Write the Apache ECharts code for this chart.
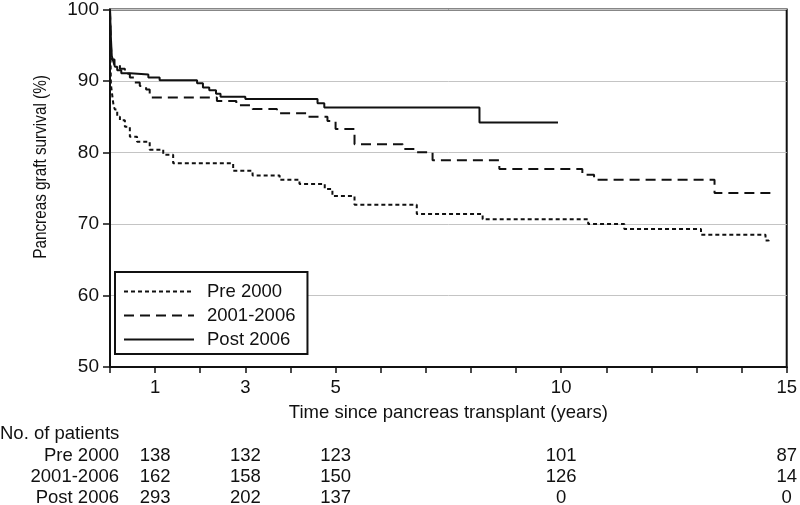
<!DOCTYPE html>
<html><head><meta charset="utf-8">
<script src="https://cdn.jsdelivr.net/npm/echarts@6/dist/echarts.min.js"></script>
<style>html,body{margin:0;padding:0;background:#fff}#c{width:800px;height:505px}</style>
</head><body><div id="c"></div>
<script>
// ---- data ----
const seriesNames = ['Pre 2000', '2001-2006', 'Post 2006'];

const pre2000Times  = [0, 0.01, 0.02, 0.05, 0.08, 0.11, 0.16, 0.22, 0.33, 0.44, 0.6, 0.88, 1.18, 1.4, 2.73, 3.16, 3.76, 4.2, 4.76, 4.93, 5.42, 6.8, 8.26, 10.6, 11.4, 13.1, 14.53, 14.6];
const pre2000Values = [100, 94, 89.5, 88.0, 86.5, 86.0, 85.0, 84.5, 83.6, 82.2, 81.5, 80.4, 79.7, 78.5, 77.45, 76.8, 76.2, 75.6, 74.9, 73.9, 72.7, 71.4, 70.65, 70.0, 69.3, 68.5, 67.7, 67.6];

const mid2001Times  = [0, 0.02, 0.04, 0.1, 0.22, 0.33, 0.44, 0.55, 0.66, 0.8, 0.88, 2.37, 2.8, 3.16, 3.7, 4.36, 4.82, 5.0, 5.42, 6.49, 6.75, 7.15, 8.63, 10.47, 10.73, 13.4, 14.75];
const mid2001Values = [100, 95, 93.0, 92.2, 91.7, 91.0, 90.5, 89.8, 89.3, 88.8, 87.7, 87.2, 86.6, 86.1, 85.5, 85.0, 84.4, 83.3, 81.15, 80.5, 80.05, 78.9, 77.7, 76.9, 76.2, 74.35, 74.35];

const post2006Times  = [0, 0.02, 0.04, 0.07, 0.11, 0.16, 0.25, 0.45, 0.85, 1.1, 1.93, 2.06, 2.2, 2.35, 2.45, 3.0, 4.6, 4.75, 8.19, 9.93];
const post2006Values = [100, 96, 93.5, 92.8, 92.0, 91.5, 91.1, 90.9, 90.5, 90.1, 89.7, 89.1, 88.7, 88.2, 87.8, 87.5, 86.9, 86.3, 84.2, 84.2];

const xTickLabels = [1, 3, 5, 10, 15];
const yTickValues = [50, 60, 70, 80, 90, 100];

const atRiskTitle = 'No. of patients';
const atRiskTimes = [1, 3, 5, 10, 15];
const atRiskPre2000  = [138, 132, 123, 101, 87];
const atRisk2001     = [162, 158, 150, 126, 14];
const atRiskPost2006 = [293, 202, 137, 0, 0];

// ---- chart ----
const FONT = "'Liberation Sans', Arial, sans-serif";
const INK = '#111';
const FS = 18.5;
const chart = echarts.init(document.getElementById('c'), null, {renderer: 'canvas'});

function pairs(ts, vs) { return ts.map((t, i) => [t, vs[i]]); }

const lineStyles = [
  {color: INK, width: 2, type: [4, 3]},
  {color: INK, width: 2, type: [10, 6]},
  {color: INK, width: 2, type: 'solid'}
];
const dataSets = [
  pairs(pre2000Times, pre2000Values),
  pairs(mid2001Times, mid2001Values),
  pairs(post2006Times, post2006Values)
];

chart.setOption({
  animation: false,
  backgroundColor: '#fff',
  textStyle: {fontFamily: FONT, color: INK},
  grid: {left: 110, right: 11, top: 7, bottom: 138, show: true, borderColor: INK, borderWidth: 2, backgroundColor: 'transparent'},
  xAxis: {
    type: 'value', min: 0, max: 15, interval: 1,
    name: 'Time since pancreas transplant (years)',
    nameLocation: 'middle', nameGap: 36,
    nameTextStyle: {fontFamily: FONT, fontSize: FS, color: INK},
    axisLine: {show: true, lineStyle: {color: INK, width: 2}},
    axisTick: {show: true, inside: false, length: 6, lineStyle: {color: INK, width: 1.5}},
    axisLabel: {
      fontFamily: FONT, fontSize: FS, color: INK, margin: 11,
      formatter: v => xTickLabels.indexOf(v) >= 0 ? String(v) : ''
    },
    splitLine: {show: false}
  },
  yAxis: {
    type: 'value', min: 50, max: 100, interval: 10,
    axisLine: {show: true, lineStyle: {color: INK, width: 2}},
    axisTick: {show: true, inside: false, length: 7, lineStyle: {color: INK, width: 1.5}},
    axisLabel: {fontFamily: FONT, fontSize: 19, color: INK, margin: 11,
      formatter: v => yTickValues.indexOf(v) >= 0 ? String(v) : ''},
    splitLine: {show: true, lineStyle: {color: '#c4c4c4', width: 1}}
  },
  legend: {
    orient: 'vertical', left: 115, top: 272,
    data: seriesNames,
    itemWidth: 70, itemHeight: 20, itemGap: 5,
    padding: [10, 12, 5, 8],
    borderColor: INK, borderWidth: 2, backgroundColor: '#fff',
    itemStyle: {opacity: 0},
    textStyle: {fontFamily: FONT, fontSize: FS, color: INK, padding: [0, 0, 0, 8]},
    selectedMode: false
  },
  series: seriesNames.map((n, i) => ({
    name: n, type: 'line', step: 'end', symbol: 'none', showSymbol: false,
    data: dataSets[i], lineStyle: lineStyles[i], itemStyle: {color: INK},
    z: 3 - i
  }))
});

// y-axis title and number-at-risk table
const texts = [];
texts.push({type: 'text', x: 41, y: 167, rotation: Math.PI / 2, scaleX: 0.85, scaleY: 1,
  style: {text: 'Pancreas graft survival (%)', fontFamily: FONT, fontSize: 18, fill: INK, align: 'center', verticalAlign: 'middle'}});
texts.push({type: 'text', x: 0, y: 434,
  style: {text: atRiskTitle, fontFamily: FONT, fontSize: FS, fill: INK, align: 'left', verticalAlign: 'middle'}});
const rows = [atRiskPre2000, atRisk2001, atRiskPost2006];
const rowY = [455.5, 477, 498];
rows.forEach((row, r) => {
  texts.push({type: 'text', x: 119, y: rowY[r],
    style: {text: seriesNames[r], fontFamily: FONT, fontSize: FS, fill: INK, align: 'right', verticalAlign: 'middle'}});
  row.forEach((n, j) => {
    const px = chart.convertToPixel({xAxisIndex: 0}, atRiskTimes[j]);
    texts.push({type: 'text', x: px, y: rowY[r],
      style: {text: String(n), fontFamily: FONT, fontSize: FS, fill: INK, align: 'center', verticalAlign: 'middle'}});
  });
});
chart.setOption({graphic: texts});
</script>
</body></html>
